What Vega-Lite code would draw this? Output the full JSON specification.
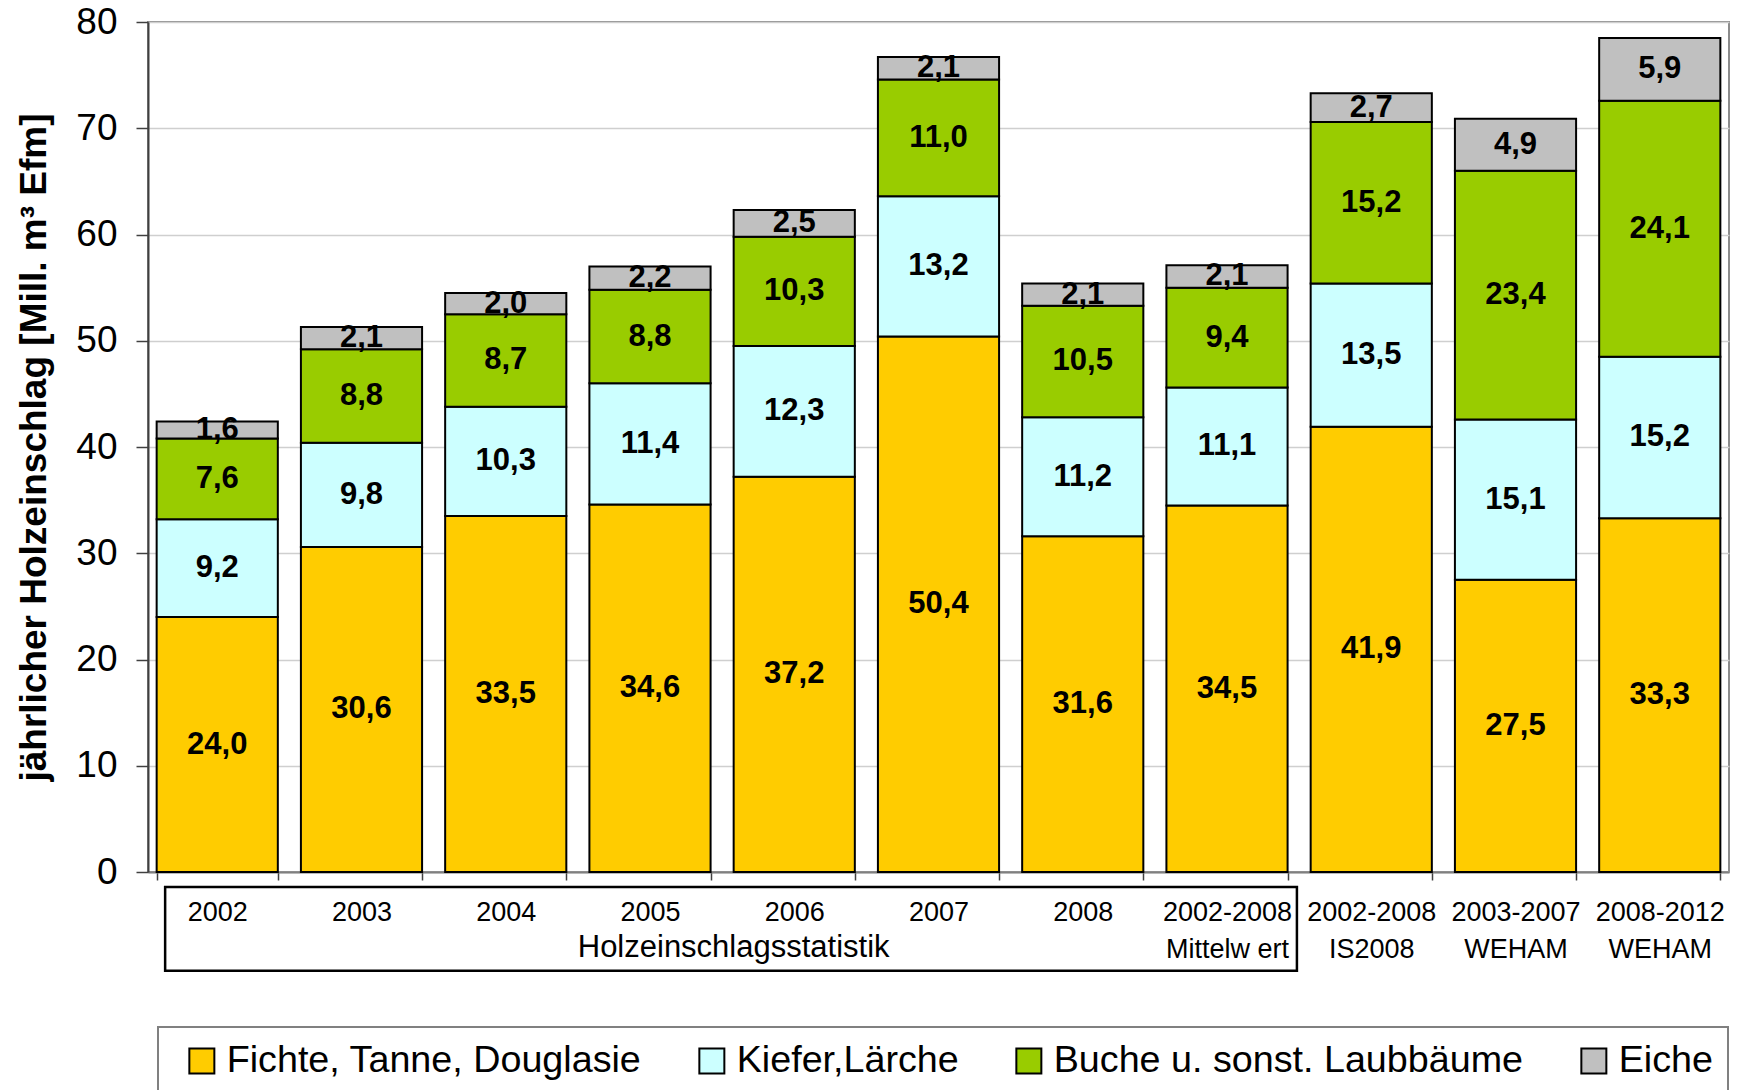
{
  "$schema": "https://vega.github.io/schema/vega-lite/v6.json",
  "width": 1581,
  "height": 850,
  "autosize": {"type": "none"},
  "padding": {"left": 148, "top": 22, "right": 9, "bottom": 218},
  "config": {
    "font": "Liberation Sans",
    "locale": {"number": {"decimal": ",", "thousands": ".", "grouping": [3], "currency": ["", " €"]}},
    "view": {"stroke": "#8c8c8c", "strokeWidth": 2},
    "legend": {"strokeWidth": 2}
  },
  "datasets": {
    "holz": [
      {"Kategorie": "2002", "Art": "Fichte, Tanne, Douglasie", "Wert": 24.0},
      {"Kategorie": "2002", "Art": "Kiefer,Lärche", "Wert": 9.2},
      {"Kategorie": "2002", "Art": "Buche u. sonst. Laubbäume", "Wert": 7.6},
      {"Kategorie": "2002", "Art": "Eiche", "Wert": 1.6},
      {"Kategorie": "2003", "Art": "Fichte, Tanne, Douglasie", "Wert": 30.6},
      {"Kategorie": "2003", "Art": "Kiefer,Lärche", "Wert": 9.8},
      {"Kategorie": "2003", "Art": "Buche u. sonst. Laubbäume", "Wert": 8.8},
      {"Kategorie": "2003", "Art": "Eiche", "Wert": 2.1},
      {"Kategorie": "2004", "Art": "Fichte, Tanne, Douglasie", "Wert": 33.5},
      {"Kategorie": "2004", "Art": "Kiefer,Lärche", "Wert": 10.3},
      {"Kategorie": "2004", "Art": "Buche u. sonst. Laubbäume", "Wert": 8.7},
      {"Kategorie": "2004", "Art": "Eiche", "Wert": 2.0},
      {"Kategorie": "2005", "Art": "Fichte, Tanne, Douglasie", "Wert": 34.6},
      {"Kategorie": "2005", "Art": "Kiefer,Lärche", "Wert": 11.4},
      {"Kategorie": "2005", "Art": "Buche u. sonst. Laubbäume", "Wert": 8.8},
      {"Kategorie": "2005", "Art": "Eiche", "Wert": 2.2},
      {"Kategorie": "2006", "Art": "Fichte, Tanne, Douglasie", "Wert": 37.2},
      {"Kategorie": "2006", "Art": "Kiefer,Lärche", "Wert": 12.3},
      {"Kategorie": "2006", "Art": "Buche u. sonst. Laubbäume", "Wert": 10.3},
      {"Kategorie": "2006", "Art": "Eiche", "Wert": 2.5},
      {"Kategorie": "2007", "Art": "Fichte, Tanne, Douglasie", "Wert": 50.4},
      {"Kategorie": "2007", "Art": "Kiefer,Lärche", "Wert": 13.2},
      {"Kategorie": "2007", "Art": "Buche u. sonst. Laubbäume", "Wert": 11.0},
      {"Kategorie": "2007", "Art": "Eiche", "Wert": 2.1},
      {"Kategorie": "2008", "Art": "Fichte, Tanne, Douglasie", "Wert": 31.6},
      {"Kategorie": "2008", "Art": "Kiefer,Lärche", "Wert": 11.2},
      {"Kategorie": "2008", "Art": "Buche u. sonst. Laubbäume", "Wert": 10.5},
      {"Kategorie": "2008", "Art": "Eiche", "Wert": 2.1},
      {"Kategorie": "2002-2008|Mittelw ert", "Art": "Fichte, Tanne, Douglasie", "Wert": 34.5},
      {"Kategorie": "2002-2008|Mittelw ert", "Art": "Kiefer,Lärche", "Wert": 11.1},
      {"Kategorie": "2002-2008|Mittelw ert", "Art": "Buche u. sonst. Laubbäume", "Wert": 9.4},
      {"Kategorie": "2002-2008|Mittelw ert", "Art": "Eiche", "Wert": 2.1},
      {"Kategorie": "2002-2008|IS2008", "Art": "Fichte, Tanne, Douglasie", "Wert": 41.9},
      {"Kategorie": "2002-2008|IS2008", "Art": "Kiefer,Lärche", "Wert": 13.5},
      {"Kategorie": "2002-2008|IS2008", "Art": "Buche u. sonst. Laubbäume", "Wert": 15.2},
      {"Kategorie": "2002-2008|IS2008", "Art": "Eiche", "Wert": 2.7},
      {"Kategorie": "2003-2007|WEHAM", "Art": "Fichte, Tanne, Douglasie", "Wert": 27.5},
      {"Kategorie": "2003-2007|WEHAM", "Art": "Kiefer,Lärche", "Wert": 15.1},
      {"Kategorie": "2003-2007|WEHAM", "Art": "Buche u. sonst. Laubbäume", "Wert": 23.4},
      {"Kategorie": "2003-2007|WEHAM", "Art": "Eiche", "Wert": 4.9},
      {"Kategorie": "2008-2012|WEHAM", "Art": "Fichte, Tanne, Douglasie", "Wert": 33.3},
      {"Kategorie": "2008-2012|WEHAM", "Art": "Kiefer,Lärche", "Wert": 15.2},
      {"Kategorie": "2008-2012|WEHAM", "Art": "Buche u. sonst. Laubbäume", "Wert": 24.1},
      {"Kategorie": "2008-2012|WEHAM", "Art": "Eiche", "Wert": 5.9}
    ],
    "gruppe": [
      {"von": "2002", "bis": "2002-2008|Mittelw ert", "mitte": "2006", "oben": -1.41, "unten": -9.29, "textY": -7.12, "Titel": "Holzeinschlagsstatistik"}
    ]
  },
  "layer": [
    {
      "data": {"name": "holz"},
      "transform": [
        {"calculate": "indexof(['Fichte, Tanne, Douglasie', 'Kiefer,Lärche', 'Buche u. sonst. Laubbäume', 'Eiche'], datum.Art)", "as": "Rang"}
      ],
      "encoding": {
        "x": {
          "field": "Kategorie", "type": "nominal", "sort": null,
          "scale": {"domain": ["2002","2003","2004","2005","2006","2007","2008","2002-2008|Mittelw ert","2002-2008|IS2008","2003-2007|WEHAM","2008-2012|WEHAM"], "paddingInner": 0.16, "paddingOuter": 0.06},
          "axis": {
            "title": null, "labelAngle": 0, "labelExpr": "split(datum.label, '|')",
            "labelFontSize": 27, "labelLineHeight": 37, "labelPadding": 19, "labelColor": "black", "labelLimit": 400,
            "tickBand": "extent", "tickSize": 8, "tickColor": "#404040", "tickWidth": 1.5,
            "domainColor": "#808080", "domainWidth": 2, "grid": false
          }
        },
        "y": {
          "field": "Wert", "type": "quantitative", "stack": "zero",
          "scale": {"domain": [0, 80], "nice": false},
          "axis": {
            "title": "jährlicher Holzeinschlag [Mill. m³ Efm]", "titleFontSize": 37, "titleFontWeight": "bold", "titleColor": "black", "titlePadding": 22,
            "values": [0,10,20,30,40,50,60,70,80], "labelFontSize": 37, "labelColor": "black", "labelPadding": 19,
            "tickSize": 12, "tickColor": "#404040", "tickWidth": 1.5, "domainColor": "#404040", "domainWidth": 2,
            "grid": true, "gridColor": "#cfcfcf", "gridWidth": 1.5
          }
        },
        "order": {"field": "Rang", "type": "quantitative", "sort": "ascending"}
      },
      "layer": [
        {
          "mark": {"type": "bar", "stroke": "black", "strokeWidth": 2},
          "encoding": {
            "color": {
              "field": "Art", "type": "nominal",
              "sort": ["Fichte, Tanne, Douglasie", "Kiefer,Lärche", "Buche u. sonst. Laubbäume", "Eiche"],
              "scale": {"domain": ["Fichte, Tanne, Douglasie", "Kiefer,Lärche", "Buche u. sonst. Laubbäume", "Eiche"], "range": ["#FFCC00", "#CCFFFF", "#99CC00", "#C0C0C0"]},
              "legend": {
                "orient": "none", "legendX": 10, "legendY": 1005, "direction": "horizontal",
                "title": " ", "titleOrient": "left", "titleFontSize": 37, "titlePadding": 10,
                "symbolType": "square", "symbolSize": 625, "symbolStrokeColor": "black", "symbolStrokeWidth": 2, "symbolOpacity": 1,
                "labelFontSize": 37.7, "labelColor": "black", "labelOffset": 6, "labelLimit": 800,
                "columnPadding": 51, "padding": 15, "strokeColor": "#808080"
              }
            }
          }
        },
        {
          "mark": {"type": "text", "fontSize": 31, "fontWeight": "bold", "baseline": "middle"},
          "encoding": {
            "y": {"field": "Wert", "type": "quantitative", "stack": "zero", "bandPosition": 0.5},
            "color": {
              "field": "Art", "type": "nominal",
              "scale": {"domain": ["Fichte, Tanne, Douglasie", "Kiefer,Lärche", "Buche u. sonst. Laubbäume", "Eiche"], "range": ["#000000", "#000000", "#000000", "#000000"]},
              "legend": null
            },
            "text": {"field": "Wert", "type": "quantitative", "format": ".1f"}
          }
        }
      ],
      "resolve": {"scale": {"color": "independent"}}
    },
    {
      "data": {"name": "gruppe"},
      "mark": {"type": "rect", "fillOpacity": 0, "stroke": "black", "strokeWidth": 2.5},
      "encoding": {
        "x": {"field": "von", "type": "nominal", "bandPosition": 0.07},
        "x2": {"field": "bis", "bandPosition": 1.077},
        "y": {"field": "oben", "type": "quantitative"},
        "y2": {"field": "unten"}
      }
    },
    {
      "data": {"name": "gruppe"},
      "mark": {"type": "text", "fontSize": 31, "baseline": "middle", "align": "center", "color": "black"},
      "encoding": {
        "x": {"field": "mitte", "type": "nominal", "bandPosition": 0},
        "y": {"field": "textY", "type": "quantitative"},
        "text": {"field": "Titel"}
      }
    }
  ]
}
